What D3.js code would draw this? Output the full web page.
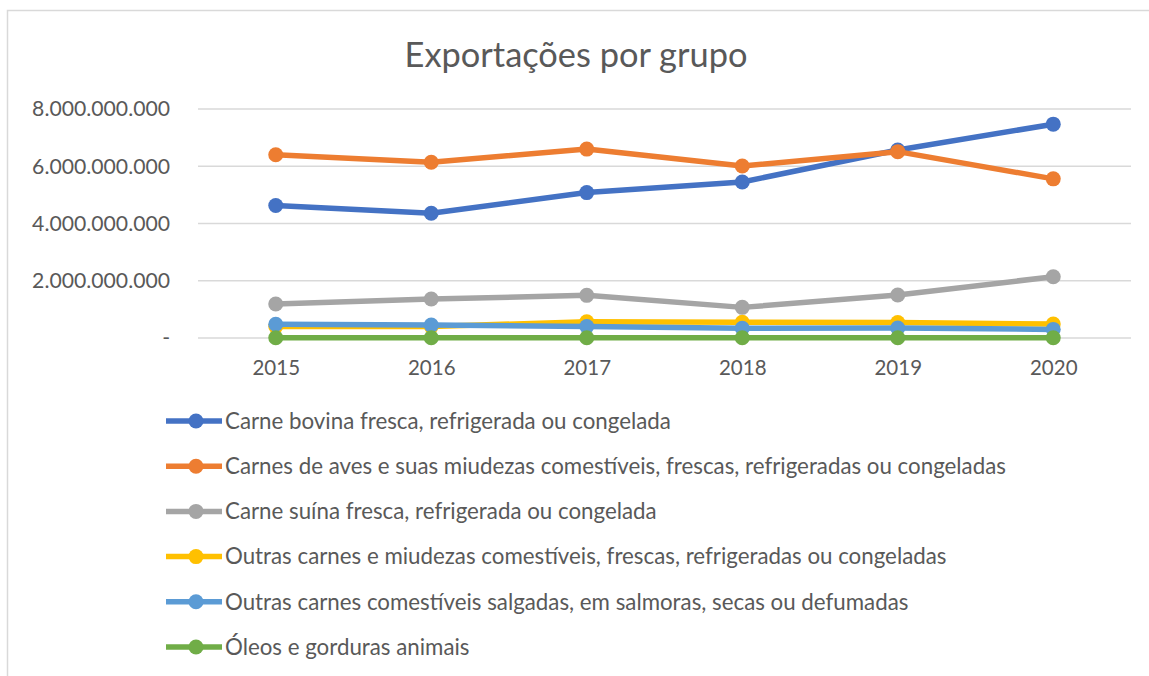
<!DOCTYPE html>
<html>
<head>
<meta charset="utf-8">
<script src="https://cdn.jsdelivr.net/npm/d3@7"></script>
<style>
  body { margin: 0; background: #fff; }
  svg text { font-family: Lato, "Open Sans", sans-serif; fill: #595959; }
</style>
</head>
<body>
<div id="chart"></div>
<script>
// data
var years = ['2015', '2016', '2017', '2018', '2019', '2020'];
var seriesNames = [
  'Carne bovina fresca, refrigerada ou congelada',
  'Carnes de aves e suas miudezas comestíveis, frescas, refrigeradas ou congeladas',
  'Carne suína fresca, refrigerada ou congelada',
  'Outras carnes e miudezas comestíveis, frescas, refrigeradas ou congeladas',
  'Outras carnes comestíveis salgadas, em salmoras, secas ou defumadas',
  'Óleos e gorduras animais'
];
var seriesColors = ['#4472c4', '#ed7d31', '#a5a5a5', '#ffc000', '#5b9bd5', '#70ad47'];
var bovina = [4.63e9, 4.36e9, 5.08e9, 5.45e9, 6.57e9, 7.47e9];
var aves = [6.40e9, 6.14e9, 6.60e9, 6.01e9, 6.51e9, 5.56e9];
var suina = [1.19e9, 1.36e9, 1.49e9, 1.07e9, 1.50e9, 2.14e9];
var outrasMiudezas = [0.40e9, 0.40e9, 0.57e9, 0.55e9, 0.54e9, 0.49e9];
var outrasSalgadas = [0.48e9, 0.45e9, 0.40e9, 0.34e9, 0.35e9, 0.30e9];
var oleos = [0.01e9, 0.01e9, 0.01e9, 0.01e9, 0.01e9, 0.01e9];
var yTicks = [0, 2e9, 4e9, 6e9, 8e9];

var allValues = [bovina, aves, suina, outrasMiudezas, outrasSalgadas, oleos];

var width = 1149, height = 676;
var svg = d3.select('#chart').append('svg')
  .attr('width', width)
  .attr('height', height);

// chart frame (cropped on the right and bottom)
svg.append('path')
  .attr('d', 'M7.5,' + height + 'V10.5H' + width)
  .attr('fill', 'none')
  .attr('stroke', '#d9d9d9')
  .attr('stroke-width', 1.5);

svg.append('text')
  .attr('x', 576)
  .attr('y', 67)
  .attr('text-anchor', 'middle')
  .style('font-size', '34.4px')
  .text('Exportações por grupo');

var x = d3.scalePoint().domain(years).range([198, 1131]).padding(0.5);
var y = d3.scaleLinear().domain([0, 8e9]).range([338, 109]);

var fmt = function (d) {
  return d === 0 ? '-' : d3.format(',')(d).replace(/,/g, '.');
};

// gridlines
svg.append('g')
  .selectAll('line')
  .data(yTicks)
  .join('line')
  .attr('x1', 198)
  .attr('x2', 1131)
  .attr('y1', d => y(d))
  .attr('y2', d => y(d))
  .attr('stroke', '#d9d9d9')
  .attr('stroke-width', 1.5);

// y labels
var yAxis = svg.append('g')
  .attr('transform', 'translate(170,0)')
  .call(d3.axisLeft(y).tickValues(yTicks).tickFormat(fmt).tickSize(0).tickPadding(0));
yAxis.select('.domain').remove();
yAxis.selectAll('text').style('font-size', '21.2px').attr('fill', '#595959').attr('font-family', null);

// x labels
var xAxis = svg.append('g')
  .attr('transform', 'translate(0,360)')
  .call(d3.axisBottom(x).tickSize(0).tickPadding(0));
xAxis.select('.domain').remove();
xAxis.selectAll('text').style('font-size', '20.5px').attr('fill', '#595959').attr('font-family', null);

var line = d3.line()
  .x((d, i) => x(years[i]))
  .y(d => y(d));

var series = svg.append('g')
  .selectAll('g')
  .data(allValues)
  .join('g');

series.append('path')
  .attr('d', d => line(d))
  .attr('fill', 'none')
  .attr('stroke', (d, i) => seriesColors[i])
  .attr('stroke-width', 5.5)
  .attr('stroke-linejoin', 'round');

series.each(function (vals, si) {
  d3.select(this).selectAll('circle')
    .data(vals)
    .join('circle')
    .attr('cx', (d, i) => x(years[i]))
    .attr('cy', d => y(d))
    .attr('r', 7.5)
    .attr('fill', seriesColors[si]);
});

// legend
var legend = svg.append('g')
  .selectAll('g')
  .data(seriesNames)
  .join('g')
  .attr('transform', (d, i) => 'translate(0,' + (421 + i * 45.2) + ')');

legend.append('line')
  .attr('x1', 166)
  .attr('x2', 222)
  .attr('stroke', (d, i) => seriesColors[i])
  .attr('stroke-width', 5.5);

legend.append('circle')
  .attr('cx', 196)
  .attr('r', 7.5)
  .attr('fill', (d, i) => seriesColors[i]);

legend.append('text')
  .attr('x', 225)
  .attr('dy', '0.35em')
  .style('font-size', '22.3px')
  .text(d => d);
</script>
</body>
</html>
